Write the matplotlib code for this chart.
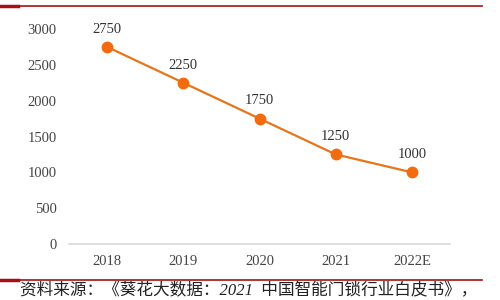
import matplotlib
matplotlib.use('Agg')
import matplotlib.pyplot as plt
from matplotlib.lines import Line2D

years = ['2018', '2019', '2020', '2021', '2022E']
values = [2750, 2250, 1750, 1250, 1000]
yticks = [0, 500, 1000, 1500, 2000, 2500, 3000]
source = '资料来源：《葵花大数据：2021  中国智能门锁行业白皮书》，'

fig = plt.figure(figsize=(5, 3), dpi=100)
ax = fig.add_axes([69 / 500, 56 / 300, 381 / 500, 215 / 300])

x = list(range(len(years)))
ax.plot(x, values, color='#E8751A', linewidth=1.6, marker='o',
        markersize=7.5, markerfacecolor='#F26B0F', markeredgecolor='#F26B0F')

for xi, v in zip(x, values):
    ax.annotate(str(v), (xi, v), xytext=(0, 8), textcoords='offset points',
                ha='center', va='bottom', fontsize=10.5,
                family='Liberation Serif', color='#333333')

ax.set_xlim(-0.5, len(years) - 0.5)
ax.set_ylim(0, 3000)
ax.set_xticks(x)
ax.set_xticklabels(years, family='Liberation Serif', fontsize=10.5, color='#444444')
ax.set_yticks(yticks)
ax.set_yticklabels([str(t) for t in yticks], family='Liberation Serif',
                   fontsize=10.5, color='#444444')
ax.tick_params(length=0)
ax.tick_params(axis='x', pad=8)
ax.tick_params(axis='y', pad=9)
for s in ['top', 'right', 'left']:
    ax.spines[s].set_visible(False)
ax.spines['bottom'].set_color('#D9D9D9')
ax.spines['bottom'].set_linewidth(1.2)

# red rules at top and bottom
fig.add_artist(Line2D([0, 482 / 500], [1 - 6 / 300] * 2, color='#A50F15', linewidth=1.2))
fig.add_artist(Line2D([0, 18 / 500], [1 - 6 / 300] * 2, color='#A50F15', linewidth=2.5))
fig.add_artist(Line2D([0, 482 / 500], [1 - 280 / 300] * 2, color='#A50F15', linewidth=1.2))
fig.add_artist(Line2D([0, 18 / 500], [1 - 280 / 300] * 2, color='#A50F15', linewidth=2.5))

fig.text(20 / 500, 1 - 291 / 300, source, ha='left', va='center', fontsize=12,
         family=['Liberation Serif', 'Noto Sans CJK SC'], style='italic', color='#222222')

fig.savefig('out.png', dpi=100)
